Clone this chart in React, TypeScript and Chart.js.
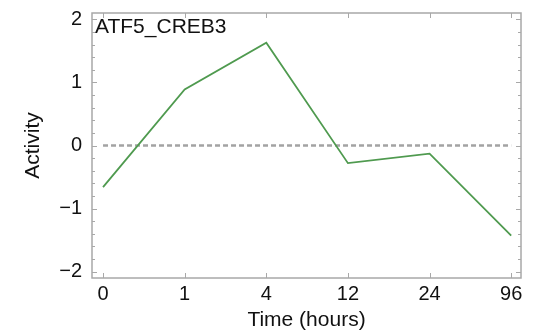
import React, { useEffect, useRef } from "react";
import { Chart, registerables } from "chart.js";

Chart.register(...registerables);

const timeLabels = ["0", "1", "4", "12", "24", "96"];
const activity = [-0.66, 0.89, 1.63, -0.28, -0.13, -1.43];
const zeroLine = [0, 0, 0, 0, 0, 0];
const yMajorTicks = [-2, -1, 0, 1, 2];
const chartTitle = "ATF5_CREB3";

const FONT = "'Liberation Sans', Arial, Helvetica, sans-serif";

const framePlugin = {
  id: "frame",
  afterDatasetsDraw(chart: any) {
    const { ctx, chartArea } = chart;
    const { left, right, top, bottom } = chartArea;
    const xs = chart.scales.x;
    const ys = chart.scales.y;
    ctx.save();
    ctx.strokeStyle = "#a8a8a8";
    ctx.lineWidth = 1.5;
    ctx.strokeRect(left, top, right - left, bottom - top);
    ctx.lineWidth = 1;
    ctx.beginPath();
    for (let v = -2; v <= 2.0001; v += 0.2) {
      const rv = Math.round(v * 10) / 10;
      const isMajor = yMajorTicks.includes(rv);
      const len = isMajor ? 5 : 3;
      const py = Math.round(ys.getPixelForValue(rv)) + 0.5;
      ctx.moveTo(left, py);
      ctx.lineTo(left + len, py);
      ctx.moveTo(right, py);
      ctx.lineTo(right - len, py);
    }
    timeLabels.forEach((_, i) => {
      const px = Math.round(xs.getPixelForValue(i)) + 0.5;
      ctx.moveTo(px, bottom);
      ctx.lineTo(px, bottom - 5);
      ctx.moveTo(px, top);
      ctx.lineTo(px, top + 5);
    });
    ctx.stroke();
    ctx.fillStyle = "#111";
    ctx.font = `21px ${FONT}`;
    ctx.textBaseline = "alphabetic";
    ctx.textAlign = "left";
    ctx.fillText(chartTitle, left + 3, top + 20);
    ctx.restore();
  },
};

export default function App() {
  const ref = useRef<HTMLCanvasElement | null>(null);
  useEffect(() => {
    document.body.style.margin = "0";
    const canvas = ref.current;
    if (!canvas) return;
    const chart = new Chart(canvas, {
      type: "line",
      data: {
        datasets: [
          {
            label: chartTitle,
            data: activity.map((y, i) => ({ x: i, y })),
            borderColor: "#4f9a4f",
            borderWidth: 1.8,
            pointRadius: 0,
            fill: false,
            tension: 0,
            order: 0,
          },
          {
            label: "zero",
            data: zeroLine.map((y, i) => ({ x: i, y })),
            borderColor: "#a3a3a3",
            borderWidth: 2.5,
            borderDash: [5, 3],
            pointRadius: 0,
            fill: false,
            order: 1,
          },
        ],
      },
      options: {
        animation: false,
        responsive: false,
        maintainAspectRatio: false,
        layout: { padding: { top: 13, right: 15, left: 0, bottom: 0 } },
        plugins: {
          legend: { display: false },
          tooltip: { enabled: false },
          title: { display: false },
        },
        scales: {
          x: {
            type: "linear",
            min: -0.135,
            max: 5.12,
            afterFit: (s: any) => {
              s.height = 55;
              s.paddingLeft = 0;
              s.paddingRight = 0;
            },
            afterBuildTicks: (s: any) => {
              s.ticks = timeLabels.map((_, i) => ({ value: i }));
            },
            ticks: {
              callback: (v: any) => timeLabels[v as number] ?? "",
              font: { family: FONT, size: 20 },
              color: "#111",
              padding: 4,
              maxRotation: 0,
              autoSkip: false,
            },
            grid: { display: false, drawTicks: false },
            border: { display: false },
            title: {
              display: true,
              text: "Time (hours)",
              font: { family: FONT, size: 21 },
              color: "#111",
              padding: { top: 0, bottom: 0 },
            },
          },
          y: {
            min: -2.1,
            max: 2.1,
            afterFit: (s: any) => {
              s.width = 92;
              s.paddingTop = 0;
              s.paddingBottom = 0;
            },
            afterBuildTicks: (s: any) => {
              s.ticks = yMajorTicks.map((v) => ({ value: v }));
            },
            ticks: {
              callback: (v: any) => (v < 0 ? "\u2212" + Math.abs(v) : String(v)),
              font: { family: FONT, size: 20 },
              color: "#111",
              padding: 10,
            },
            grid: { display: false, drawTicks: false },
            border: { display: false },
            title: {
              display: true,
              text: "Activity",
              font: { family: FONT, size: 21 },
              color: "#111",
              padding: { top: 21, bottom: 0 },
            },
          },
        },
      },
      plugins: [framePlugin],
    });
    return () => chart.destroy();
  }, []);
  return (
    <div style={{ width: 536, height: 333, background: "#fff" }}>
      <canvas ref={ref} width={536} height={333} />
    </div>
  );
}
